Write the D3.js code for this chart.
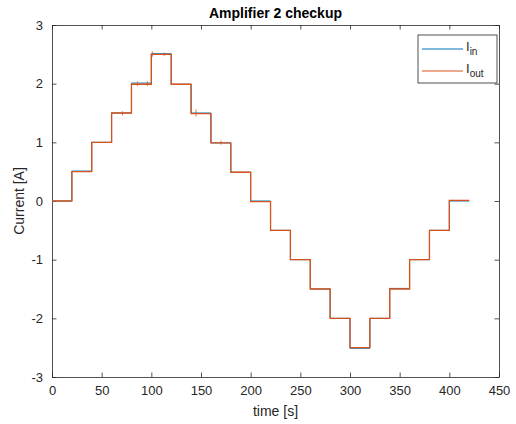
<!DOCTYPE html>
<html>
<head>
<meta charset="utf-8">
<script src="https://cdn.jsdelivr.net/npm/d3@7"></script>
<style>
  body { margin: 0; background: #fff; }
  text { font-family: "Liberation Sans", Arial, Helvetica, sans-serif; fill: #262626; }
</style>
</head>
<body>
<div id="chart"></div>
<script>
var svgWidth = 516;
var svgHeight = 424;

var margin = { top: 25, right: 17, bottom: 47, left: 52 };
var width = svgWidth - margin.left - margin.right;
var height = svgHeight - margin.top - margin.bottom;

// step start times [s]
var stepTimes = [0, 20, 40, 60, 80, 100, 120, 140, 160, 180, 200, 220, 240, 260, 280, 300, 320, 340, 360, 380, 400, 420];
// input current level on each step
var iIn = [0, 0.51, 1.0, 1.5, 2.01, 2.51, 1.99, 1.5, 0.99, 0.49, 0, -0.5, -1.0, -1.5, -2.0, -2.51, -2.0, -1.49, -1.0, -0.5, 0.0, 0.0];
// output current level on each step
var iOut = [0, 0.5, 1.0, 1.5, 1.99, 2.5, 1.99, 1.49, 0.99, 0.49, -0.01, -0.5, -1.0, -1.5, -2.0, -2.5, -2.0, -1.5, -1.0, -0.5, 0.01, 0.01];
// small glitches on the output trace: time, low, high
var glitchT = [71, 86, 96, 101, 113, 145, 170];
var glitchLo = [1.46, 1.96, 1.96, 2.46, 2.47, 1.44, 0.96];
var glitchHi = [1.53, 2.04, 2.04, 2.55, 2.53, 1.56, 1.03];

var xTicks = [0, 50, 100, 150, 200, 250, 300, 350, 400, 450];
var yTicks = [-3, -2, -1, 0, 1, 2, 3];

var svg = d3.select("#chart")
  .append("svg")
  .attr("width", svgWidth)
  .attr("height", svgHeight);

var chartGroup = svg.append("g")
  .attr("transform", `translate(${margin.left}, ${margin.top})`);

var xScale = d3.scaleLinear().domain([0, 450]).range([0, width]);
var yScale = d3.scaleLinear().domain([-3, 3]).range([height, 0]);

var axisColor = "#262626";
var fmt = d => String(d);

// axes: ticks inside, mirrored on top/right
var bottomAxis = d3.axisBottom(xScale).tickValues(xTicks).tickFormat(fmt).tickSizeInner(-4.5).tickSizeOuter(0).tickPadding(9);
var topAxis = d3.axisTop(xScale).tickValues(xTicks).tickSizeInner(-4.5).tickSizeOuter(0).tickFormat("");
var leftAxis = d3.axisLeft(yScale).tickValues(yTicks).tickFormat(fmt).tickSizeInner(-4.5).tickSizeOuter(0).tickPadding(9);
var rightAxis = d3.axisRight(yScale).tickValues(yTicks).tickSizeInner(-4.5).tickSizeOuter(0).tickFormat("");

function styleAxis(g) {
  g.selectAll("path, line").attr("stroke", axisColor).attr("stroke-width", 0.8);
  g.selectAll("text").attr("font-size", "13px").attr("fill", axisColor)
    .attr("font-family", '"Liberation Sans", Arial, sans-serif');
}

chartGroup.append("g").attr("transform", `translate(0, ${height})`).call(bottomAxis).call(styleAxis);
chartGroup.append("g").call(topAxis).call(styleAxis);
chartGroup.append("g").call(leftAxis).call(styleAxis);
chartGroup.append("g").attr("transform", `translate(${width}, 0)`).call(rightAxis).call(styleAxis);

chartGroup.append("clipPath").attr("id", "clip")
  .append("rect").attr("width", width).attr("height", height);

var plot = chartGroup.append("g").attr("clip-path", "url(#clip)");

var line = d3.line()
  .x(d => xScale(d[0]))
  .y(d => yScale(d[1]))
  .curve(d3.curveStepAfter);

var inData = stepTimes.map((t, i) => [t, iIn[i]]);
var outData = stepTimes.map((t, i) => [t, iOut[i]]);

plot.append("path")
  .datum(inData)
  .attr("fill", "none")
  .attr("stroke", "#0072BD")
  .attr("stroke-width", 1)
  .attr("d", line);

plot.append("path")
  .datum(outData)
  .attr("fill", "none")
  .attr("stroke", "#D95319")
  .attr("stroke-width", 1.3)
  .attr("d", line);

plot.selectAll(".glitch")
  .data(glitchT)
  .enter()
  .append("line")
  .attr("class", "glitch")
  .attr("x1", d => xScale(d))
  .attr("x2", d => xScale(d))
  .attr("y1", (d, i) => yScale(glitchLo[i]))
  .attr("y2", (d, i) => yScale(glitchHi[i]))
  .attr("stroke", "#D95319")
  .attr("stroke-width", 0.8);

// title and axis labels
svg.append("text")
  .attr("x", margin.left + width / 2)
  .attr("y", 18)
  .attr("text-anchor", "middle")
  .attr("font-size", "14px")
  .attr("font-weight", "bold")
  .style("fill", "#000")
  .text("Amplifier 2 checkup");

svg.append("text")
  .attr("x", margin.left + width / 2)
  .attr("y", 416)
  .attr("text-anchor", "middle")
  .attr("font-size", "14px")
  .text("time [s]");

svg.append("text")
  .attr("transform", `translate(24, ${margin.top + height / 2}) rotate(-90)`)
  .attr("text-anchor", "middle")
  .attr("font-size", "14px")
  .text("Current [A]");

// legend
var legend = svg.append("g").attr("transform", "translate(418, 35)");
legend.append("rect")
  .attr("width", 79).attr("height", 48)
  .attr("fill", "#fff").attr("stroke", axisColor).attr("stroke-width", 0.8);

var legendItems = [["in", "#0072BD"], ["out", "#D95319"]];
legendItems.forEach(function(item, i) {
  var y = 14 + i * 22;
  legend.append("line")
    .attr("x1", 4).attr("x2", 45).attr("y1", y).attr("y2", y)
    .attr("stroke", item[1]).attr("stroke-width", 1);
  var t = legend.append("text")
    .attr("x", 48).attr("y", y + 2)
    .attr("font-size", "13px");
  t.append("tspan").text("I");
  t.append("tspan").attr("dy", 4).attr("font-size", "10px").text(item[0]);
});
</script>
</body>
</html>
